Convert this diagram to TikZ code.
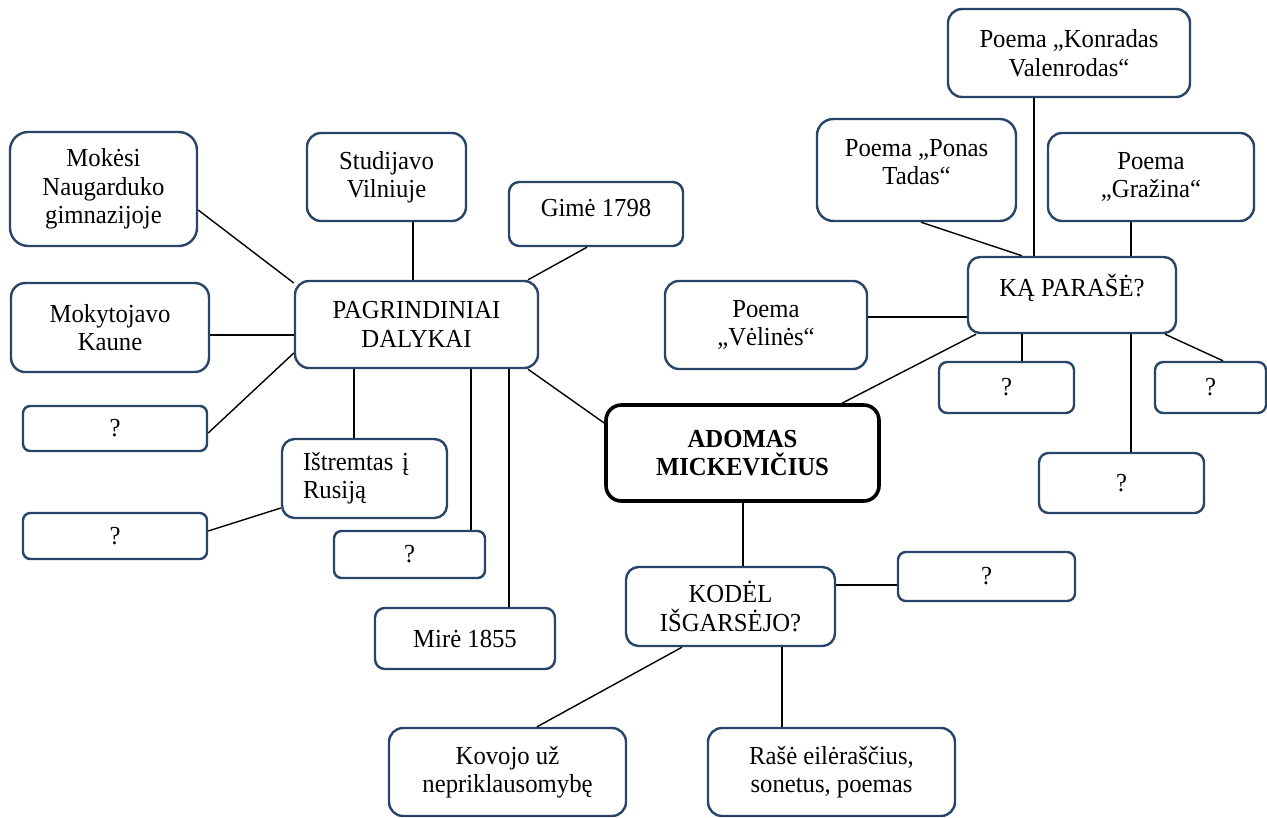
\documentclass[tikz,border=0pt]{standalone}
\usepackage{fontspec}
\setmainfont[FakeStretch=0.95]{Liberation Serif}
\definecolor{boxblue}{RGB}{40,68,105}
\tikzset{
  box/.style={draw=boxblue, line width=2.4pt, fill=white, inner sep=0pt, align=center,
    font=\fontsize{26}{28.4}\selectfont},
  mainbox/.style={draw=black, line width=3.6pt, font=\fontsize{26}{28.4}\selectfont\bfseries},
  conn/.style={draw=black, line width=1.4pt}
}
\newcommand\bx[7][]{%
  \pgfmathsetmacro\bw{#5-#3}\pgfmathsetmacro\bh{#6-#4}%
  \pgfmathsetmacro\br{0.16*min(\bw,\bh)}%
  \node[box, rounded corners=\br pt, minimum width=\bw pt, minimum height=\bh pt, #1] (#2) at ({(#3+#5)/2},{(#4+#6)/2}) {#7};}
\begin{document}
\begin{tikzpicture}[x=1pt,y=-1pt]
\useasboundingbox (0,0) rectangle (1267,817);
% left cluster
\bx{mok}{10}{132}{197}{246}{Mokėsi\\Naugarduko\\gimnazijoje}
\bx{mky}{11}{283}{209}{372}{Mokytojavo\\Kaune}
\bx{qa}{23}{406}{207}{451}{?}
\bx{stu}{307}{133}{466}{221}{Studijavo\\Vilniuje}
\bx[text depth=12pt]{gim}{509}{182}{683}{246}{Gimė 1798}
\bx{pag}{295}{281}{538}{368}{PAGRINDINIAI\\DALYKAI}
\bx[text width=123pt, align=left]{ist}{282}{439}{447}{518}{Ištremtas į\\Rusiją}
\bx{qb}{23}{513}{207}{559}{?}
\bx{qc}{334}{531}{485}{578}{?}
\bx{mir}{375}{608}{555}{669}{Mirė 1855}
% centre
\bx[mainbox]{ado}{606}{405}{879}{501}{ADOMAS\\MICKEVIČIUS}
\bx{kod}{626}{567}{835}{646}{KODĖL\\IŠGARSĖJO?}
\bx{qd}{898}{552}{1075}{601}{?}
\bx{kov}{389}{728}{626}{816}{Kovojo už\\nepriklausomybę}
\bx{ras}{708}{728}{955}{816}{Rašė eilėraščius,\\sonetus, poemas}
% right cluster
\bx{kon}{948}{9}{1190}{97}{Poema „Konradas\\Valenrodas“}
\bx{pon}{817}{119}{1016}{221}{Poema „Ponas\\Tadas“\\[-12pt]\mbox{}}
\bx{gra}{1048}{133}{1254}{221}{Poema\\„Gražina“}
\bx[text depth=20pt]{ka}{968}{257}{1176}{333}{KĄ PARAŠĖ?}
\bx{vel}{665}{281}{867}{369}{Poema\\„Vėlinės“}
\bx{qe}{939}{362}{1074}{413}{?}
\bx{qf}{1155}{362}{1266}{413}{?}
\bx{qg}{1039}{453}{1204}{513}{?}
% connectors
\draw[conn] (mok.east |- 0,210) -- (pag.west |- 0,283);
\draw[conn] (mky.east |- 0,335) -- (pag.west |- 0,335);
\draw[conn] (qa.east |- 0,433) -- (pag.west |- 0,353);
\draw[conn] (stu.south -| 413,0) -- (pag.north -| 413,0);
\draw[conn] (gim.south -| 587,0) -- (pag.north -| 528,0);
\draw[conn] (pag.south -| 528,0) -- (ado.west |- 0,423);
\draw[conn] (pag.south -| 354,0) -- (ist.north -| 354,0);
\draw[conn] (pag.south -| 471,0) -- (qc.north -| 471,0);
\draw[conn] (pag.south -| 509,0) -- (mir.north -| 509,0);
\draw[conn] (qb.east |- 0,531) -- (ist.west |- 0,508);
\draw[conn] (ado.south -| 743,0) -- (kod.north -| 743,0);
\draw[conn] (kod.east |- 0,585) -- (qd.west |- 0,585);
\draw[conn] (kod.south -| 682,0) -- (kov.north -| 537,0);
\draw[conn] (kod.south -| 782,0) -- (ras.north -| 782,0);
\draw[conn] (ado.north -| 842,0) -- (ka.south -| 976,0);
\draw[conn] (ka.north -| 1034,0) -- (kon.south -| 1034,0);
\draw[conn] (ka.north -| 1022,0) -- (pon.south -| 921,0);
\draw[conn] (ka.north -| 1131,0) -- (gra.south -| 1131,0);
\draw[conn] (vel.east |- 0,317) -- (ka.west |- 0,317);
\draw[conn] (ka.south -| 1022,0) -- (qe.north -| 1022,0);
\draw[conn] (ka.south -| 1131,0) -- (qg.north -| 1131,0);
\draw[conn] (ka.south -| 1165,0) -- (qf.north -| 1223,0);
\end{tikzpicture}
\end{document}
